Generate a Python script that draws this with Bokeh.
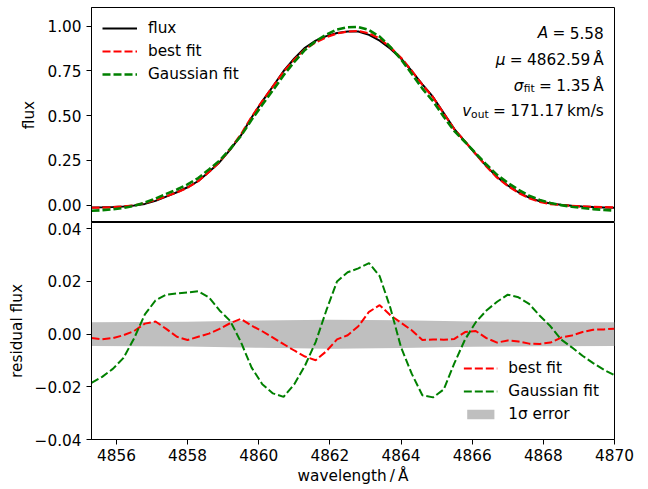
from bokeh.plotting import figure
from bokeh.models import (Range1d, FixedTicker, CustomJSTickFormatter, Label,
                          Legend, LegendItem, ColumnDataSource)
from bokeh.layouts import column
from bokeh.embed import file_html
from bokeh.resources import INLINE

# ---------------- data ----------------
wavelength = [4855.3, 4855.6, 4855.9, 4856.2, 4856.5, 4856.8, 4857.1, 4857.4, 4857.7, 4858.0,
              4858.3, 4858.6, 4858.9, 4859.2, 4859.5, 4859.8, 4860.1, 4860.4, 4860.7, 4861.0,
              4861.3, 4861.6, 4861.9, 4862.2, 4862.5, 4862.8, 4863.1, 4863.4, 4863.7, 4864.0,
              4864.3, 4864.6, 4864.9, 4865.2, 4865.5, 4865.8, 4866.1, 4866.4, 4866.7, 4867.0,
              4867.3, 4867.6, 4867.9, 4868.2, 4868.5, 4868.8, 4869.1, 4869.4, 4869.7, 4870.0]

flux = [-0.013, -0.012, -0.010, -0.007, -0.002, 0.007, 0.024, 0.048, 0.072, 0.100,
        0.135, 0.185, 0.240, 0.310, 0.390, 0.490, 0.580, 0.665, 0.750, 0.820,
        0.880, 0.920, 0.945, 0.962, 0.971, 0.971, 0.952, 0.920, 0.875, 0.820,
        0.750, 0.675, 0.605, 0.515, 0.425, 0.355, 0.285, 0.218, 0.157, 0.110,
        0.072, 0.042, 0.022, 0.009, 0.002, -0.004, -0.008, -0.011, -0.013, -0.015]

resid_best = [-0.0015, -0.0019, -0.0015, -0.0004, 0.0012, 0.0040, 0.0048, 0.0020, -0.0010, -0.0022,
              -0.0010, 0.0002, 0.0020, 0.0042, 0.0058, 0.0032, 0.0011, -0.0013, -0.0038, -0.0062,
              -0.0085, -0.0099, -0.0065, -0.0020, -0.0004, 0.0030, 0.0085, 0.0110, 0.0072, 0.0043,
              0.0015, -0.0022, -0.0020, -0.0021, -0.0018, 0.0008, 0.0012, -0.0015, -0.0032, -0.0024,
              -0.0028, -0.0036, -0.0037, -0.0032, -0.0013, -0.0005, 0.0008, 0.0017, 0.0018, 0.0021]

resid_gauss = [-0.0185, -0.0162, -0.0132, -0.0090, -0.0015, 0.0075, 0.0128, 0.0150, 0.0155, 0.0158,
               0.0163, 0.0140, 0.0090, 0.0050, -0.0030, -0.0127, -0.0190, -0.0225, -0.0238, -0.0190,
               -0.0120, -0.0030, 0.0090, 0.0200, 0.0235, 0.0250, 0.0270, 0.0220, 0.0100, -0.0050,
               -0.0150, -0.0232, -0.0240, -0.0210, -0.0110, -0.0020, 0.0045, 0.0090, 0.0123, 0.0150,
               0.0140, 0.0115, 0.0070, 0.0030, -0.0020, -0.0050, -0.0082, -0.0110, -0.0135, -0.0156]

err_wave = [4855.3, 4858.0, 4860.0, 4862.0, 4864.0, 4866.0, 4868.0, 4870.0]
err_sigma = [0.0045, 0.0047, 0.0052, 0.0055, 0.0053, 0.0048, 0.0046, 0.0045]

x_ticks = [4856, 4858, 4860, 4862, 4864, 4866, 4868, 4870]
flux_ticks = [0.0, 0.25, 0.5, 0.75, 1.0]
resid_ticks = [-0.04, -0.02, 0.0, 0.02, 0.04]

# derived tables (fit = flux + residual)
best_fit = [f + r for f, r in zip(flux, resid_best)]
gauss_fit = [f + r for f, r in zip(flux, resid_gauss)]
src = ColumnDataSource(dict(w=wavelength, flux=flux, best=best_fit, gauss=gauss_fit,
                            rb=resid_best, rg=resid_gauss))
esrc = ColumnDataSource(dict(w=err_wave, lo=[-e for e in err_sigma], hi=err_sigma))

FONT = "DejaVu Sans"
FS = "15.3px"
FS_SUB = "10.7px"

x_range = Range1d(4855.3, 4870.0)

fmt = CustomJSTickFormatter(code="""
    const s = Math.abs(tick).toFixed(2);
    return (tick < -1e-12 ? "\u2212" : "") + s;
""")


def style_axis(ax):
    ax.major_tick_in = 0
    ax.major_tick_out = 5
    ax.minor_tick_line_color = None
    ax.axis_line_color = "black"
    ax.major_tick_line_color = "black"
    ax.major_label_text_font = FONT
    ax.major_label_text_font_size = FS
    ax.major_label_text_color = "black"
    ax.major_label_standoff = 5
    ax.axis_label_text_font = FONT
    ax.axis_label_text_font_size = FS
    ax.axis_label_text_font_style = "normal"
    ax.axis_label_text_color = "black"
    ax.axis_label_standoff = 6


# ---------------- top panel ----------------
p1 = figure(width=648, height=222, x_range=x_range, y_range=Range1d(-0.097, 1.105),
            output_backend="svg", toolbar_location=None, x_axis_location=None,
            min_border_left=91, min_border_right=34, min_border_top=7, min_border_bottom=0)
p1.xgrid.visible = False
p1.ygrid.visible = False
p1.outline_line_color = "black"
p1.outline_line_alpha = 1
p1.outline_line_width = 1
p1.yaxis.ticker = FixedTicker(ticks=flux_ticks)
p1.yaxis.formatter = fmt
p1.yaxis.axis_label = "flux"
style_axis(p1.yaxis[0])

r_flux = p1.line("w", "flux", source=src, line_color="black", line_width=2)
r_best = p1.line("w", "best", source=src, line_color="red", line_width=2.2, line_dash="8 3")
r_gauss = p1.line("w", "gauss", source=src, line_color="green", line_width=2.6, line_dash="8 3")

leg1 = Legend(items=[LegendItem(label="flux", renderers=[r_flux]),
                     LegendItem(label="best fit", renderers=[r_best]),
                     LegendItem(label="Gaussian fit", renderers=[r_gauss])],
              location="top_left", glyph_width=35, glyph_height=14, label_height=20,
              spacing=3, padding=7, margin=4, label_standoff=11,
              label_text_font=FONT, label_text_font_size=FS, label_text_color="black",
              background_fill_alpha=0, border_line_alpha=0)
p1.add_layout(leg1)

# parameter annotations (right aligned, pieces placed by pixel offset)
XR = 4869.7
ann = [
    # (text, y, x_offset, italic, small, y_offset)
    ("5.58", 0.964, 0, False, False, 0),
    ("=", 0.964, -38.6, False, False, 0),
    ("A", 0.964, -55.5, True, False, 0),
    ("4862.59\u2009\u00c5", 0.813, 0, False, False, 0),
    ("=", 0.813, -81.3, False, False, 0),
    ("\u03bc", 0.813, -98.3, True, False, 0),
    ("1.35\u2009\u00c5", 0.667, 0, False, False, 0),
    ("=", 0.667, -52.1, False, False, 0),
    ("fit", 0.667, -69.2, False, True, -3),
    ("\u03c3", 0.667, -80.3, True, False, 0),
    ("171.17\u2009km/s", 0.525, 0, False, False, 0),
    ("=", 0.525, -98.0, False, False, 0),
    ("out", 0.525, -115.2, False, True, -3),
    ("v", 0.525, -132.6, True, False, 0),
]
for t, yy, xo, it, sm, yo in ann:
    p1.add_layout(Label(x=XR, y=yy, x_offset=xo, y_offset=yo, text=t,
                        text_align="right", text_baseline="alphabetic",
                        text_font=FONT, text_font_size=FS_SUB if sm else FS,
                        text_font_style="italic" if it else "normal",
                        text_color="black"))

# ---------------- bottom panel ----------------
p2 = figure(width=648, height=267, x_range=x_range, y_range=Range1d(-0.04, 0.0424),
            output_backend="svg", toolbar_location=None,
            min_border_left=91, min_border_right=34, min_border_top=0, min_border_bottom=50)
p2.xgrid.visible = False
p2.ygrid.visible = False
p2.outline_line_color = "black"
p2.outline_line_alpha = 1
p2.outline_line_width = 1
p2.xaxis.ticker = FixedTicker(ticks=x_ticks)
p2.yaxis.ticker = FixedTicker(ticks=resid_ticks)
p2.yaxis.formatter = fmt
p2.xaxis.axis_label = "wavelength\u2009/\u2009\u00c5"
p2.yaxis.axis_label = "residual flux"
style_axis(p2.xaxis[0])
style_axis(p2.yaxis[0])
p2.xaxis[0].major_label_standoff = 4
p2.xaxis[0].axis_label_standoff = 3

r_err = p2.varea(x="w", y1="lo", y2="hi", source=esrc, fill_color="#bfbfbf", fill_alpha=1)
r_rb = p2.line("w", "rb", source=src, line_color="red", line_width=2, line_dash="8 3")
r_rg = p2.line("w", "rg", source=src, line_color="green", line_width=2, line_dash="8 3")

leg2 = Legend(items=[LegendItem(label="best fit", renderers=[r_rb]),
                     LegendItem(label="Gaussian fit", renderers=[r_rg]),
                     LegendItem(label="1\u03c3 error", renderers=[r_err])],
              location="bottom_right", glyph_width=34, glyph_height=12, label_height=20,
              spacing=3, padding=7, margin=8, label_standoff=11,
              label_text_font=FONT, label_text_font_size=FS, label_text_color="black",
              background_fill_alpha=0, border_line_alpha=0)
p2.add_layout(leg2)

layout = column(p1, p2, spacing=0)
open("out.html", "w").write(file_html(layout, INLINE))
